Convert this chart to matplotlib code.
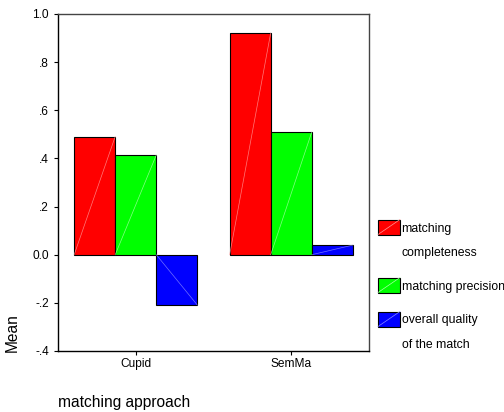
import numpy as np
import matplotlib
matplotlib.use('Agg')
import matplotlib.pyplot as plt
from matplotlib.patches import Rectangle

plt.rcParams['font.family'] = ['Liberation Sans', 'DejaVu Sans']

# data
approaches = ['Cupid', 'SemMa']
series = ['matching\ncompleteness', 'matching precision', 'overall quality\nof the match']
completeness = [0.491, 0.922]
precision = [0.414, 0.510]
quality = [-0.209, 0.040]
ytick_vals = [-0.4, -0.2, 0.0, 0.2, 0.4, 0.6, 0.8, 1.0]
ytick_labels = ['-.4', '-.2', '0.0', '.2', '.4', '.6', '.8', '1.0']

colors = ['#ff0000', '#00ff00', '#0000ff']
diag = ['#ff9a9a', '#a8ffa8', '#8c8cff']

fig = plt.figure(figsize=(5.04, 4.12), dpi=100)
ax = fig.add_axes([58/504, 1-351/412, 311/504, 337/412])

x = np.arange(len(approaches))
w = 0.264
for i, vals in enumerate([completeness, precision, quality]):
    bars = ax.bar(x + (i-1)*w, vals, w, color=colors[i], edgecolor='black', linewidth=0.8)
    # faint diagonal line inside each bar
    for b in bars:
        ax.plot([b.get_x(), b.get_x()+b.get_width()], [b.get_y(), b.get_y()+b.get_height()],
                color=diag[i], lw=0.5, alpha=0.8, zorder=3)

ax.set_xlim(-0.5, 1.5)
ax.set_ylim(-0.4, 1.0)
ax.set_yticks(ytick_vals)
ax.set_yticklabels(ytick_labels)
ax.set_xticks(x)
ax.set_xticklabels(approaches)
ax.tick_params(axis='y', length=3, width=0.8, pad=3.6, labelsize=8.6)
ax.tick_params(axis='x', length=3, width=0.8, pad=2, labelsize=8.6)

for s in ['left', 'bottom']:
    ax.spines[s].set_color('black')
    ax.spines[s].set_linewidth(1.0)
for s in ['top', 'right']:
    ax.spines[s].set_color('#444444')
    ax.spines[s].set_linewidth(1.0)

ax.set_ylabel('Mean', fontsize=11.2)
ax.yaxis.set_label_coords(-0.122, 0.056)
ax.set_xlabel('matching approach', fontsize=11.2, loc='left')
ax.xaxis.set_label_coords(0.0, -0.13)

# legend drawn by hand
patch_y = [219.5, 277.5, 311.5]
text_lines = [[('matching', 229), ('completeness', 253)],
              [('matching precision', 287)],
              [('overall quality', 320), ('of the match', 345)]]
for i in range(3):
    px0, py0 = 378/504, 1-(patch_y[i]+15)/412
    pw, ph = 22/504, 15/412
    fig.patches.append(Rectangle((px0, py0), pw, ph, transform=fig.transFigure,
                                 facecolor=colors[i], edgecolor='black', lw=0.8))
    fig.add_artist(plt.Line2D([px0, px0+pw], [py0, py0+ph], transform=fig.transFigure,
                              color=diag[i], lw=0.5))
    for txt, yy in text_lines[i]:
        fig.text(401.5/504, 1-yy/412, txt, fontsize=8.8, ha='left', va='center')

fig.savefig('out.png', dpi=100)
